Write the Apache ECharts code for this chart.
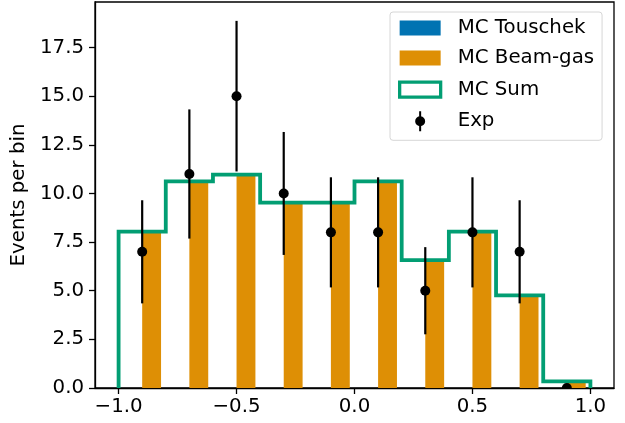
<!DOCTYPE html>
<html>
<head>
<meta charset="utf-8">
<script src="https://cdn.jsdelivr.net/npm/echarts@6/dist/echarts.min.js"></script>
<style>
  html, body { margin: 0; padding: 0; background: #ffffff; }
  #chart { width: 625px; height: 423px; }
</style>
</head>
<body>
<div id="chart"></div>
<script>
// Histogram binning and contents
const binEdges   = [-1.0, -0.8, -0.6, -0.4, -0.2, 0.0, 0.2, 0.4, 0.6, 0.8, 1.0];
const mcTouschek = [0, 0, 0, 0, 0, 0, 0, 0, 0, 0];
const mcBeamGas  = [8.04, 10.62, 10.97, 9.53, 9.53, 10.62, 6.57, 8.04, 4.76, 0.34];
const expCounts  = [7, 11, 15, 10, 8, 8, 5, 8, 7, 0];
const expErrors  = [2.65, 3.32, 3.87, 3.16, 2.83, 2.83, 2.24, 2.83, 2.65, 0];

// Axis ticks
const xTicks = [-1.0, -0.5, 0.0, 0.5, 1.0];
const yTicks = [0, 2.5, 5, 7.5, 10, 12.5, 15, 17.5];

const FONT = 'DejaVu Sans';
const FS = 19.8;
const BLUE = '#0173b2', ORANGE = '#de8f05', GREEN = '#029e73';

// [left edge, right edge, value] per bin
function binRows(values) {
  return values.map((v, i) => [binEdges[i], binEdges[i + 1], v]);
}

// Side-by-side histogram bars: 80% of the bin, split in two halves
function barRenderer(side) {
  return function (params, api) {
    const l = api.value(0), r = api.value(1), v = api.value(2);
    const w = r - l, c = (l + r) / 2;
    const x0 = side < 0 ? l + 0.1 * w : c;
    const x1 = side < 0 ? c : r - 0.1 * w;
    const pTop = api.coord([x0, v]);
    const pBot = api.coord([x1, 0]);
    return {
      type: 'rect',
      shape: { x: pTop[0], y: pTop[1], width: pBot[0] - pTop[0], height: pBot[1] - pTop[1] },
      style: { fill: api.visual('color') }
    };
  };
}

// Outline of the summed MC histogram
const mcSum = mcTouschek.map((v, i) => v + mcBeamGas[i]);
const stepPoints = [[binEdges[0], 0]];
mcSum.forEach((v, i) => {
  stepPoints.push([binEdges[i], v]);
  stepPoints.push([binEdges[i + 1], v]);
});
stepPoints.push([binEdges[binEdges.length - 1], 0]);

// Data points with symmetric error bars at bin centres
const expRows = expCounts.map((v, i) => [(binEdges[i] + binEdges[i + 1]) / 2, v, expErrors[i]]);

const fmt = v => (v < 0 ? '\u2212' : '') + Math.abs(v).toFixed(1);

const chart = echarts.init(document.getElementById('chart'), null, { renderer: 'canvas' });
chart.setOption({
  animation: false,
  backgroundColor: '#ffffff',
  textStyle: { fontFamily: FONT },
  grid: {
    left: 95, right: 11, top: 2, bottom: 35,
    show: true, borderColor: '#000000', borderWidth: 1.3, backgroundColor: 'transparent'
  },
  xAxis: {
    type: 'value', min: -1.1, max: 1.1,
    axisLine: { show: true, onZero: false, lineStyle: { color: '#000000', width: 1.3 } },
    axisTick: { show: true, inside: false, length: 6, customValues: xTicks, lineStyle: { color: '#000000', width: 1.3 } },
    axisLabel: { customValues: xTicks, formatter: fmt, color: '#000000', fontFamily: FONT, fontSize: FS, margin: 9 },
    splitLine: { show: false }
  },
  yAxis: {
    type: 'value', min: 0, max: 19.84,
    name: 'Events per bin', nameLocation: 'middle', nameGap: 61,
    nameTextStyle: { color: '#000000', fontFamily: FONT, fontSize: FS },
    axisLine: { show: true, onZero: false, lineStyle: { color: '#000000', width: 1.3 } },
    axisTick: { show: true, inside: false, length: 6, customValues: yTicks, lineStyle: { color: '#000000', width: 1.3 } },
    axisLabel: { customValues: yTicks, formatter: v => v.toFixed(1), color: '#000000', fontFamily: FONT, fontSize: FS, margin: 11 },
    splitLine: { show: false }
  },
  legend: {
    orient: 'vertical', left: 390, top: 12,
    padding: [6, 8, 9, 8],
    itemWidth: 41, itemHeight: 20, itemGap: 10,
    backgroundColor: 'rgba(255,255,255,0.8)',
    borderColor: '#d6d6d6', borderWidth: 1, borderRadius: 3,
    textStyle: { fontFamily: FONT, fontSize: FS, color: '#000000', lineHeight: 20, padding: [0, 0, 0, 12] },
    selectedMode: false,
    data: [
      { name: 'MC Touschek', icon: 'path://M0,0 M41,20 M0,2.5 L41,2.5 L41,17.5 L0,17.5 Z',
        itemStyle: { color: BLUE, borderWidth: 0 } },
      { name: 'MC Beam-gas', icon: 'path://M0,0 M41,20 M0,2.5 L41,2.5 L41,17.5 L0,17.5 Z',
        itemStyle: { color: ORANGE, borderWidth: 0 } },
      { name: 'MC Sum', icon: 'path://M0,0 M41,20 M0,2.5 L41,2.5 L41,17.5 L0,17.5 Z',
        itemStyle: { color: '#ffffff', borderColor: GREEN, borderWidth: 3.3 } },
      { name: 'Exp', icon: 'path://M0,0 M41,20 M19.5,0 L21.5,0 L21.5,20 L19.5,20 Z M25.5,10 A5,5 0 1 1 15.5,10 A5,5 0 1 1 25.5,10 Z',
        itemStyle: { color: '#000000', borderWidth: 0 } }
    ]
  },
  series: [
    {
      name: 'MC Touschek', type: 'custom', z: 2,
      itemStyle: { color: BLUE },
      renderItem: barRenderer(-1),
      encode: { x: [0, 1], y: 2 },
      data: binRows(mcTouschek)
    },
    {
      name: 'MC Beam-gas', type: 'custom', z: 2,
      itemStyle: { color: ORANGE },
      renderItem: barRenderer(1),
      encode: { x: [0, 1], y: 2 },
      data: binRows(mcBeamGas)
    },
    {
      name: 'MC Sum', type: 'line', z: 3,
      symbol: 'none', showSymbol: false,
      itemStyle: { color: GREEN },
      lineStyle: { color: GREEN, width: 3.8, join: 'miter', cap: 'butt' },
      clip: true,
      data: stepPoints
    },
    {
      name: 'Exp', type: 'custom', z: 4, clip: true,
      itemStyle: { color: '#000000' },
      encode: { x: 0, y: 1 },
      renderItem: function (params, api) {
        const x = api.value(0), y = api.value(1), e = api.value(2);
        const pLo = api.coord([x, y - e]);
        const pHi = api.coord([x, y + e]);
        const p = api.coord([x, y]);
        return {
          type: 'group',
          children: [
            { type: 'line', shape: { x1: pLo[0], y1: pLo[1], x2: pHi[0], y2: pHi[1] },
              style: { stroke: '#000000', lineWidth: 2.2 } },
            { type: 'circle', shape: { cx: p[0], cy: p[1], r: 5 },
              style: { fill: '#000000' } }
          ]
        };
      },
      data: expRows
    }
  ]
});
</script>
</body>
</html>
